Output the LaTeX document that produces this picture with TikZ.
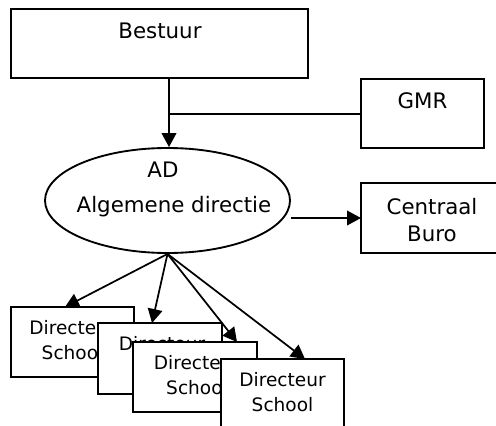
\documentclass[tikz,border=0pt]{standalone}
\usepackage{fontspec}
\setmainfont{DejaVu Sans}
\usetikzlibrary{arrows.meta,shapes.geometric,calc}
\begin{document}
\begin{tikzpicture}[x=0.75pt,y=-0.75pt,
 box/.style={draw,line width=1.5pt,fill=white,inner sep=0pt,outer sep=0pt,rectangle},
 lbl/.style={inner sep=0pt,anchor=base,font=\fontsize{13.9}{16}\selectfont},
 biglbl/.style={inner sep=0pt,anchor=base,font=\fontsize{16}{18}\selectfont},
 arr/.style={line width=1.3pt,-{Triangle[length=10.5pt,width=11pt]}}]
\useasboundingbox (0,0) rectangle (496,425);
\clip (0,0) rectangle (496,425);
% top boxes
\node[box,minimum width=297*0.75pt,minimum height=69*0.75pt] (bestuur) at (159.5,43.5) {};
\node[biglbl] (tbestuur) at (160,38) {Bestuur};
\node[box,minimum width=123*0.75pt,minimum height=69*0.75pt] (gmr) at (422.5,113.5) {};
\node[biglbl] (tgmr) at (422.5,108) {GMR};
% ellipse
\node[ellipse,draw,line width=1.4pt,fill=white,minimum width=245*0.75pt,minimum height=105*0.75pt,inner sep=0pt] (ad) at (167.5,200.5) {};
\node[biglbl] (tad) at (163,177) {AD};
\node[biglbl] (talg) at (174,212) {Algemene directie};
% centraal buro
\node[box,minimum width=142*0.75pt,minimum height=70*0.75pt] (cb) at (432,218) {};
\node[biglbl] (tcb1) at (432,214) {Centraal};
\node[biglbl] (tcb2) at (432,241) {Buro};
% director boxes
\node[box,minimum width=123*0.75pt,minimum height=70*0.75pt] (d1) at (72.5,342) {};
\node[lbl] (d1a) at (72.5,334) {Directeur};
\node[lbl] (d1b) at (72.5,359) {School};
\node[box,minimum width=124*0.75pt,minimum height=71*0.75pt] (d2) at (160,358.5) {};
\node[lbl] (d2a) at (162,350) {Directeur};
\node[lbl] (d2b) at (162,375) {School};
\node[box,minimum width=124*0.75pt,minimum height=70*0.75pt] (d3) at (195,377) {};
\node[lbl] (d3a) at (197,369) {Directeur};
\node[lbl] (d3b) at (197,394) {School};
\node[box,minimum width=123*0.75pt,minimum height=70*0.75pt] (d4) at (282.5,394) {};
\node[lbl] (d4a) at (282.5,386) {Directeur};
\node[lbl] (d4b) at (282.5,411) {School};
% connectors
\coordinate (j) at (169,114);
\draw[arr] (bestuur.south -| j) -- (ad.north -| j);
\draw[line width=1pt] (j) -- (gmr.west |- j);
\draw[arr] (ad.east |- cb.west) -- (cb.west);
\draw[arr] (ad.south) -- ($(d1.north west)+(54,0)$);
\draw[arr] (ad.south) -- ($(d2.north west)+(54,0)$);
\draw[arr] (ad.south) -- ($(d3.north west)+(104,0)$);
\draw[arr] (ad.south) -- ($(d4.north west)+(84,0)$);
\end{tikzpicture}
\end{document}
